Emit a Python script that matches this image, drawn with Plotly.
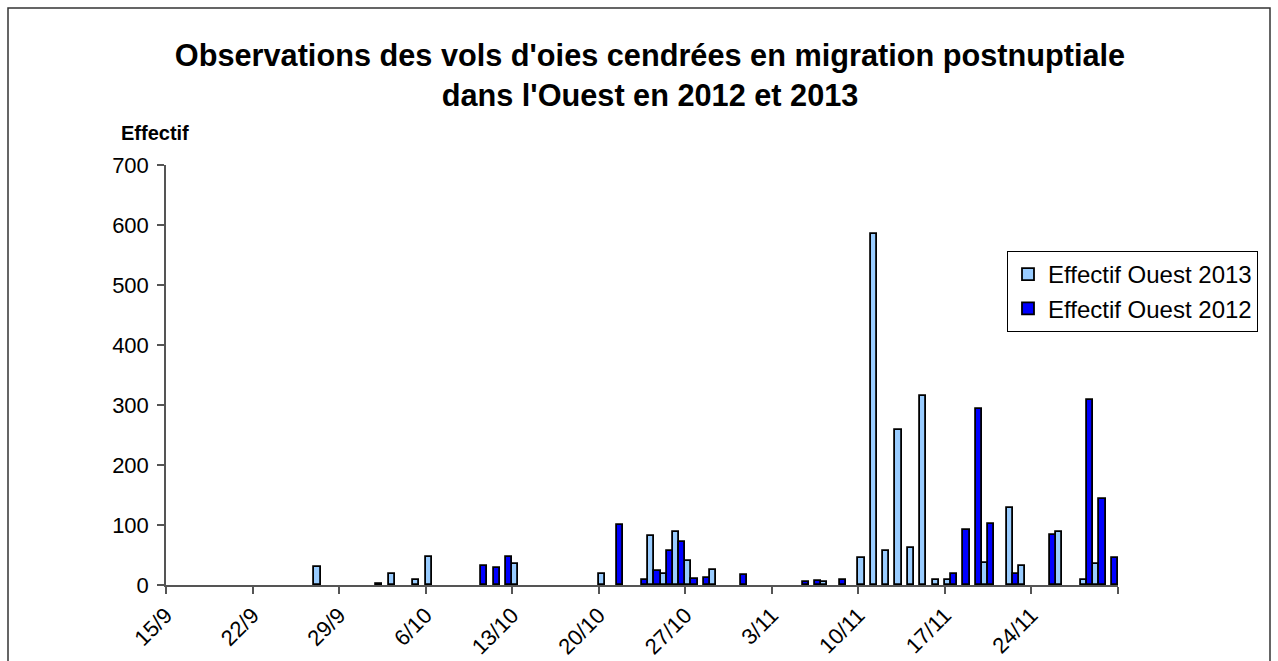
import plotly.graph_objects as go
from datetime import date

YEAR = 2013  # common calendar year used to overlay both seasons


def to_date(s):
    d, m = s.split("/")
    return date(YEAR, int(m), int(d)).isoformat()


# ---- data -------------------------------------------------------------
dates_2013 = ["27/9", "2/10", "3/10", "5/10", "6/10", "13/10", "20/10", "24/10",
              "25/10", "26/10", "27/10", "29/10", "7/11", "10/11", "11/11", "12/11",
              "13/11", "14/11", "15/11", "16/11", "17/11", "20/11", "22/11", "23/11",
              "26/11", "28/11", "29/11"]
values_2013 = [30, 2, 18, 8, 47, 35, 18, 82,
               19, 88, 40, 25, 5, 45, 585, 56,
               258, 61, 315, 8, 8, 36, 129, 32,
               88, 8, 35]

dates_2012 = ["10/10", "11/10", "12/10", "21/10", "23/10", "24/10", "25/10", "26/10",
              "27/10", "28/10", "31/10", "5/11", "6/11", "8/11", "17/11", "18/11",
              "19/11", "20/11", "22/11", "25/11", "28/11", "29/11", "30/11"]
values_2012 = [32, 29, 46, 100, 9, 24, 56, 72,
               10, 12, 17, 5, 6, 8, 18, 92,
               293, 102, 18, 84, 308, 143, 45]

tick_labels = ["15/9", "22/9", "29/9", "6/10", "13/10", "20/10", "27/10",
               "3/11", "10/11", "17/11", "24/11", "1/12"]
y_ticks = [0, 100, 200, 300, 400, 500, 600, 700]

series_names = ["Effectif Ouest 2013", "Effectif Ouest 2012"]
# -----------------------------------------------------------------------

FONT = "Liberation Sans, Arial, sans-serif"
DAY_MS = 86400000

W, H = 1278, 661
ML, MR, MT, MB = 166, 160, 165, 76
plot_w = W - ML - MR
plot_h = H - MT - MB


def px_x(px):
    return (px - ML) / plot_w


def px_y(py):
    return (H - MB - py) / plot_h


fig = go.Figure()
fig.add_trace(go.Bar(
    x=[to_date(s) for s in dates_2013], y=values_2013, name=series_names[0],
    xperiod=DAY_MS, xperiodalignment="middle",
    marker=dict(color="#99CCFF", line=dict(color="#000000", width=1.8)),
))
fig.add_trace(go.Bar(
    x=[to_date(s) for s in dates_2012], y=values_2012, name=series_names[1],
    xperiod=DAY_MS, xperiodalignment="middle",
    marker=dict(color="#0000FF", line=dict(color="#000000", width=1.8)),
))

tick_vals = [to_date(s) for s in tick_labels]
tick_text = tick_labels[:-1] + [""]

fig.update_layout(
    width=W, height=H,
    margin=dict(l=ML, r=MR, t=MT, b=MB, pad=0, autoexpand=False),
    paper_bgcolor="white", plot_bgcolor="white",
    barmode="group", bargap=0, bargroupgap=0,
    font=dict(family=FONT, color="black", size=22),
    title=dict(
        text="<b>Observations des vols d'oies cendrées en migration postnuptiale<br>dans l'Ouest en 2012 et 2013</b>",
        font=dict(family=FONT, size=30.7, color="black"),
        x=px_x(650), xref="paper", xanchor="center",
        y=1 - 66 / H, yref="container", yanchor="middle",
    ),
    xaxis=dict(
        type="date", automargin=False,
        range=[tick_vals[0], tick_vals[-1]],
        tickmode="array", tickvals=tick_vals, ticktext=tick_text,
        tickangle=-45, tickfont=dict(size=22),
        ticks="outside", ticklen=7, tickcolor="#555555", tickwidth=1.5,
        showline=True, linecolor="#555555", linewidth=1.5,
        showgrid=False, zeroline=False,
    ),
    yaxis=dict(
        automargin=False,
        range=[0, 700], tickmode="array", tickvals=y_ticks,
        tickfont=dict(size=22), ticklabelstandoff=4,
        ticks="outside", ticklen=7, tickcolor="#555555", tickwidth=1.5,
        showline=True, linecolor="#555555", linewidth=1.5,
        showgrid=False, zeroline=False,
    ),
    legend=dict(
        x=px_x(1007), y=px_y(251), xanchor="left", yanchor="top",
        bordercolor="black", borderwidth=1, bgcolor="white",
        font=dict(size=24), itemwidth=30, tracegroupgap=0,
    ),
    annotations=[dict(
        text="<b>Effectif</b>", x=px_x(155), y=px_y(133),
        xref="paper", yref="paper", xanchor="center", yanchor="middle",
        showarrow=False, font=dict(size=20),
    )],
    shapes=[dict(
        type="rect", xref="paper", yref="paper",
        x0=px_x(8), x1=px_x(1270), y0=px_y(700), y1=px_y(8),
        line=dict(color="#333333", width=1.5), fillcolor="rgba(0,0,0,0)",
        layer="below",
    )],
)

fig.write_html(
    "out.html",
    config={"displayModeBar": False},
    post_script="document.body.style.margin='0';document.body.style.overflow='hidden';",
)
